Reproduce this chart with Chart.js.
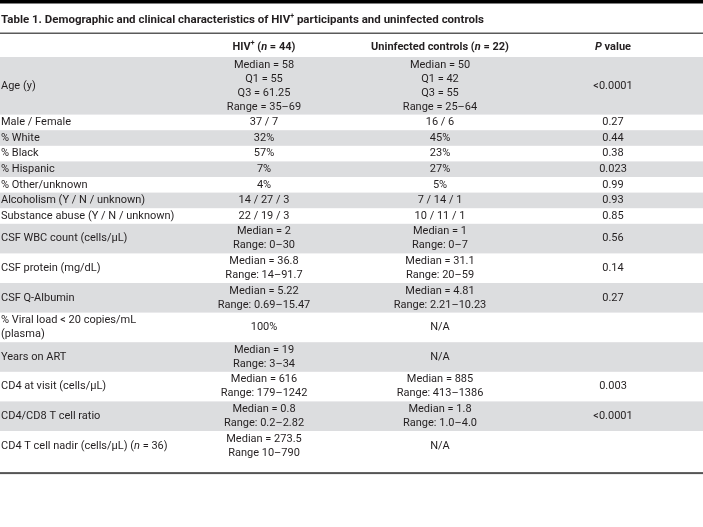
<!DOCTYPE html>
<html>
<head>
<meta charset="utf-8">
<script src="https://cdn.jsdelivr.net/npm/chart.js@4.4.1/dist/chart.umd.min.js"></script>
<style>
  html, body { margin: 0; padding: 0; background: #fff; }
  #wrap { width: 703px; height: 527px; }
</style>
</head>
<body>
<div id="wrap"><canvas id="tbl" width="703" height="527"></canvas></div>
<script>
// table content  (*x* = italic, ^x^ = superscript, \n = line break)
const title = 'Table 1. Demographic and clinical characteristics of HIV^+^ participants and uninfected controls';
const headers = ['', 'HIV^+^ (*n* = 44)', 'Uninfected controls (*n* = 22)', '*P* value'];

const rowLabels = [
  'Age (y)',
  'Male / Female',
  '% White',
  '% Black',
  '% Hispanic',
  '% Other/unknown',
  'Alcoholism (Y / N / unknown)',
  'Substance abuse (Y / N / unknown)',
  'CSF WBC count (cells/\u00b5L)',
  'CSF protein (mg/dL)',
  'CSF Q-Albumin',
  '% Viral load < 20 copies/mL\n(plasma)',
  'Years on ART',
  'CD4 at visit (cells/\u00b5L)',
  'CD4/CD8 T cell ratio',
  'CD4 T cell nadir (cells/\u00b5L) (*n* = 36)'
];

const hivValues = [
  'Median = 58\nQ1 = 55\nQ3 = 61.25\nRange = 35\u201369',
  '37 / 7',
  '32%',
  '57%',
  '7%',
  '4%',
  '14 / 27 / 3',
  '22 / 19 / 3',
  'Median = 2\nRange: 0\u201330',
  'Median = 36.8\nRange: 14\u201391.7',
  'Median = 5.22\nRange: 0.69\u201315.47',
  '100%',
  'Median = 19\nRange: 3\u201334',
  'Median = 616\nRange: 179\u20131242',
  'Median = 0.8\nRange: 0.2\u20132.82',
  'Median = 273.5\nRange 10\u2013790'
];

const controlValues = [
  'Median = 50\nQ1 = 42\nQ3 = 55\nRange = 25\u201364',
  '16 / 6',
  '45%',
  '23%',
  '27%',
  '5%',
  '7 / 14 / 1',
  '10 / 11 / 1',
  'Median = 1\nRange: 0\u20137',
  'Median = 31.1\nRange: 20\u201359',
  'Median = 4.81\nRange: 2.21\u201310.23',
  'N/A',
  'N/A',
  'Median = 885\nRange: 413\u20131386',
  'Median = 1.8\nRange: 1.0\u20134.0',
  'N/A'
];

const pValues = [
  '<0.0001', '0.27', '0.44', '0.38', '0.023', '0.99', '0.93', '0.85',
  '0.56', '0.14', '0.27', '', '', '0.003', '<0.0001', ''
];

// layout
const W = 703, H = 527;
const colX = [1, 264, 440, 613];
const TABLE_TOP = 57, LINE_H = 14, ROW_PAD = 1.6, TAIL = 11.5;
const FONT = 'Roboto, "Liberation Sans", sans-serif';
const TEXT = '#231f20';
const SHADE = '#dcdddf';

const columns = [rowLabels, hivValues, controlValues, pValues];
const lineCount = rowLabels.map((_, i) =>
  Math.max(...columns.map(c => c[i] ? c[i].split('\n').length : 1)));
const rowTop = [], rowBottom = [];
let acc = TABLE_TOP;
lineCount.forEach(n => { rowTop.push(acc); acc += n * LINE_H + ROW_PAD; rowBottom.push(acc); });
const tableBottom = acc + TAIL;
const rowMid = rowTop.map((t, i) => (t + rowBottom[i]) / 2);

function parseRich(str) {
  const segs = [];
  const re = /(\*[^*]+\*|\^[^^]+\^)/g;
  let last = 0, m;
  while ((m = re.exec(str))) {
    if (m.index > last) segs.push({ t: str.slice(last, m.index), s: 'n' });
    segs.push({ t: m[0].slice(1, -1), s: m[0][0] === '*' ? 'i' : 'sup' });
    last = m.index + m[0].length;
  }
  if (last < str.length) segs.push({ t: str.slice(last), s: 'n' });
  return segs;
}

function fontFor(seg, size, weight) {
  const st = seg.s === 'i' ? 'italic ' : '';
  const sz = seg.s === 'sup' ? Math.round(size * 0.6) : size;
  return st + weight + ' ' + sz + 'px ' + FONT;
}

function drawRich(ctx, str, x, y, align, size, weight) {
  const segs = parseRich(str);
  let w = 0;
  segs.forEach(s => { ctx.font = fontFor(s, size, weight); s.w = ctx.measureText(s.t).width; w += s.w; });
  let cx = align === 'center' ? x - w / 2 : x;
  ctx.textAlign = 'left';
  ctx.textBaseline = 'middle';
  segs.forEach(s => {
    ctx.font = fontFor(s, size, weight);
    ctx.fillText(s.t, cx, s.s === 'sup' ? y - size * 0.35 : y);
    cx += s.w;
  });
}

const tablePlugin = {
  id: 'tableDraw',
  beforeDatasetsDraw(chart) {
    const { ctx, scales: { x, y } } = chart;
    const x0 = x.getPixelForValue(0), x1 = x.getPixelForValue(W);
    ctx.save();
    // zebra rows
    ctx.fillStyle = SHADE;
    rowTop.forEach((t, i) => {
      if (i % 2 === 0) {
        const yt = y.getPixelForValue(t), yb = y.getPixelForValue(rowBottom[i]);
        ctx.fillRect(x0, yt, x1 - x0, yb - yt);
      }
    });
    // rules
    ctx.fillStyle = '#000';
    ctx.fillRect(x0, y.getPixelForValue(0), x1 - x0, 3.5);
    ctx.fillStyle = '#5a5a5a';
    ctx.fillRect(x0, y.getPixelForValue(32.5), x1 - x0, 1.5);
    ctx.fillStyle = '#555';
    ctx.fillRect(x0, y.getPixelForValue(tableBottom), x1 - x0, 2);
    // title and header
    ctx.fillStyle = TEXT;
    drawRich(ctx, title, x.getPixelForValue(1), y.getPixelForValue(20), 'left', 11.5, 'bold');
    headers.forEach((h, c) => {
      if (h) drawRich(ctx, h, x.getPixelForValue(colX[c]), y.getPixelForValue(47), 'center', 11, 'bold');
    });
    ctx.restore();
  },
  afterDatasetsDraw(chart) {
    const ctx = chart.ctx;
    ctx.save();
    ctx.fillStyle = TEXT;
    chart.data.datasets.forEach((ds, c) => {
      const meta = chart.getDatasetMeta(c);
      meta.data.forEach((pt, i) => {
        const txt = ds.cells[i];
        if (!txt) return;
        const lines = txt.split('\n');
        const start = pt.y - (lines.length - 1) * LINE_H / 2;
        lines.forEach((ln, k) => {
          drawRich(ctx, ln, pt.x, start + k * LINE_H, c === 0 ? 'left' : 'center', 11, 'normal');
        });
      });
    });
    ctx.restore();
  }
};

new Chart(document.getElementById('tbl'), {
  type: 'scatter',
  data: {
    datasets: columns.map((col, c) => ({
      label: 'col' + c,
      cells: col,
      data: col.map((_, i) => ({ x: colX[c], y: rowMid[i] })),
      pointRadius: 0,
      pointHoverRadius: 0
    }))
  },
  options: {
    responsive: false,
    animation: false,
    events: [],
    layout: { padding: 0 },
    scales: {
      x: { type: 'linear', min: 0, max: W, display: false },
      y: { type: 'linear', min: 0, max: H, reverse: true, display: false }
    },
    plugins: {
      legend: { display: false },
      tooltip: { enabled: false }
    }
  },
  plugins: [tablePlugin]
});
</script>
</body>
</html>
